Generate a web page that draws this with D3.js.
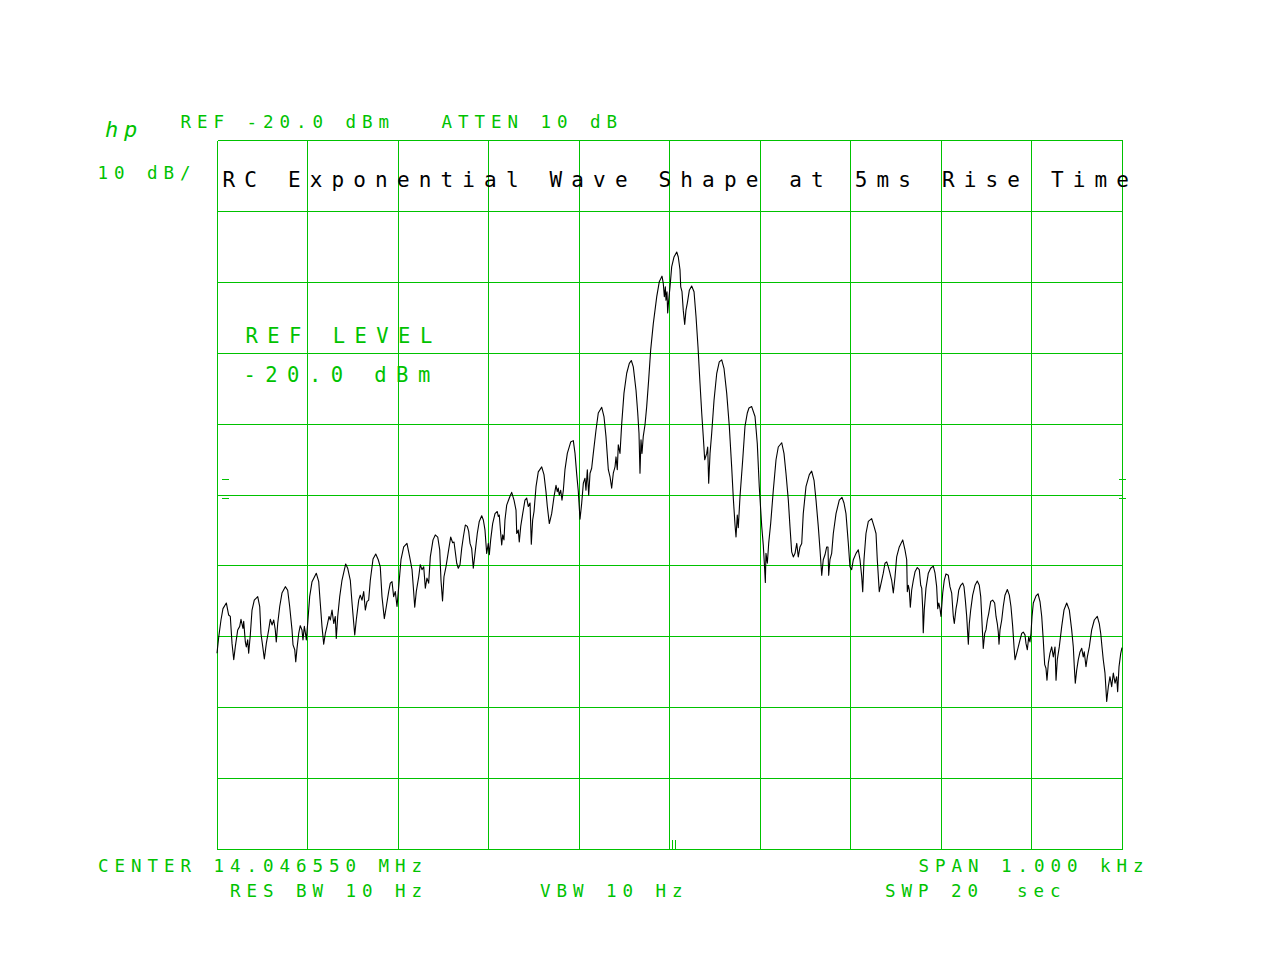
<!DOCTYPE html>
<html>
<head>
<meta charset="utf-8">
<script src="https://cdn.jsdelivr.net/npm/d3@7"></script>
<style>
  html, body { margin: 0; padding: 0; background: #ffffff; }
  svg { display: block; }
  text { white-space: pre; font-family: "DejaVu Sans Mono", "Liberation Mono", monospace; }
</style>
</head>
<body>
<svg id="chart" width="1280" height="960"></svg>
<script>
// ---------------- DATA ----------------
// Frequency offset from centre (Hz) of each trace point
const traceFreqHz = [
-500,-498.1,-495.6,-493.4,-489.7,-487.1,-485.3,-483.4,-481.5,-479.8,
-477.1,-474.9,-473.5,-471.3,-470.5,-468.7,-467.6,-466.1,-465.0,-463.2,
-461.3,-458.8,-455.0,-452.8,-451.4,-449.2,-447.7,-445.5,-442.9,-441.1,
-439.2,-437.3,-435.6,-434.5,-432.9,-430.7,-428.2,-424.5,-421.9,-419.7,
-417.1,-416.0,-414.1,-413.0,-411.6,-409.7,-408.0,-406.1,-405.0,-403.5,
-402.0,-401.3,-399.8,-397.6,-395.0,-390.3,-387.6,-385.9,-384.0,-382.1,
-380.3,-378.5,-376.2,-374.8,-372.9,-371.0,-369.3,-368.2,-366.6,-364.4,
-361.9,-357.8,-355.6,-352.7,-350.8,-348.9,-347.8,-346.1,-343.4,-341.7,
-339.8,-337.9,-336.1,-334.3,-332.4,-330.6,-327.6,-324.6,-321.8,-319.6,
-317.7,-315.1,-312.9,-310.3,-308.5,-306.6,-304.8,-303.0,-301.1,-299.2,
-296.7,-293.7,-290.1,-287.1,-284.5,-283.1,-281.5,-279.8,-277.1,-275.4,
-273.5,-271.6,-269.8,-268.0,-266.1,-264.3,-261.3,-258.8,-256.1,-253.9,
-252.5,-250.8,-249.2,-247.0,-244.4,-241.8,-239.6,-238.1,-236.7,-235.1,
-233.4,-231.5,-229.6,-227.8,-225.6,-223.4,-221.9,-220.4,-218.6,-216.8,
-214.9,-212.4,-210.2,-207.5,-205.7,-203.9,-202.8,-202.0,-200.2,-199.1,
-197.6,-195.4,-192.8,-190.3,-189.2,-188.1,-186.5,-185.4,-184.3,-182.9,
-181.8,-179.9,-177.0,-174.4,-171.8,-169.6,-168.8,-167.1,-166.0,-164.4,
-162.2,-159.7,-157.8,-156.0,-154.1,-152.7,-151.2,-149.7,-147.5,-145.0,
-141.2,-138.7,-136.5,-135.0,-132.8,-130.2,-127.6,-125.4,-124.0,-122.9,
-121.8,-120.2,-118.8,-117.3,-115.5,-112.9,-109.2,-106.3,-104.4,-102.5,
-100.8,-98.9,-97.0,-95.2,-93.4,-92.3,-90.8,-89.3,-87.8,-86.0,
-84.2,-81.2,-78.7,-74.9,-72.4,-70.2,-67.6,-65.7,-63.9,-62.1,
-60.2,-59.1,-57.7,-56.6,-54.7,-52.8,-50.3,-47.3,-44.4,-42.2,
-40.0,-37.0,-35.1,-33.7,-32.6,-31.5,-30.4,-29.0,-27.1,-25.2,
-23.0,-20.8,-17.9,-14.1,-11.3,-8.3,-6.9,-5.7,-4.6,-3.9,
-2.8,-2.0,-0.9,0.6,2.4,5.0,8.0,9.7,11.6,12.4,
13.8,15.2,16.8,18.2,19.7,21.9,24.5,27.1,29.3,31.5,
33.7,35.6,37.3,38.9,41.1,42.2,43.3,44.8,46.6,49.2,
52.2,55.0,57.7,60.2,63.2,66.1,68.7,70.5,72.4,73.5,
74.9,76.0,77.9,80.9,83.4,86.0,87.8,90.8,94.5,97.0,
99.2,100.8,101.9,103.6,104.8,105.9,106.6,108.1,109.6,111.8,
114.7,117.7,120.2,124.0,126.5,128.7,131.3,133.1,135.0,136.8,
138.7,140.6,142.3,144.2,146.1,147.8,150.8,154.5,157.1,159.7,
161.9,164.4,166.3,168.2,169.9,171.8,173.7,175.1,175.9,177.3,
179.2,181.0,184.0,187.6,190.6,192.8,195.0,197.6,199.4,201.3,
203.1,206.1,208.6,210.5,212.4,213.5,214.9,217.1,219.7,223.4,
226.0,228.2,229.6,231.8,234.5,236.2,238.1,240.0,241.8,243.6,
245.5,247.3,249.2,251.0,253.9,257.7,260.2,262.1,262.8,263.9,
265.0,266.1,267.6,269.4,271.3,273.8,276.0,277.6,278.7,279.8,
280.4,281.5,283.4,286.0,288.6,291.5,293.4,295.2,296.4,297.5,
298.9,300.0,301.9,303.6,305.5,308.1,309.9,311.8,313.6,314.7,
316.6,318.0,319.6,321.8,324.0,325.4,326.9,328.4,330.2,331.3,
332.8,335.0,337.6,340.1,342.3,343.9,345.0,346.7,348.3,349.7,
351.2,352.7,354.9,357.1,359.3,360.8,362.2,363.3,364.1,365.2,
367.1,368.8,370.7,373.3,375.5,377.3,379.2,380.7,381.8,383.6,
385.4,387.3,389.2,390.9,392.8,393.9,395.4,396.9,398.3,399.4,
400.6,402.0,405.0,407.2,409.4,411.3,413.0,414.6,416.0,417.1,
418.6,420.4,422.3,424.1,426.0,427.1,428.5,430.7,433.4,435.9,
438.9,441.8,444.4,446.2,447.3,448.4,449.9,451.7,453.6,455.5,
457.2,458.3,460.2,461.7,463.9,466.5,469.4,472.7,474.9,476.5,
477.9,479.3,481.2,483.1,484.9,486.7,488.6,490.4,492.3,494.1,
495.2,496.7,498.6,500
];

// Measured level (dBm) of each trace point
const traceLevelDbm = [
-92.4,-90.1,-87.7,-86.1,-85.3,-87.0,-87.2,-91.0,-93.3,-91.5,
-89.1,-88.6,-87.6,-88.9,-87.9,-90.8,-91.5,-90.5,-92.4,-89.8,
-86.3,-84.9,-84.4,-85.8,-89.6,-91.7,-93.2,-91.0,-89.1,-87.6,
-88.4,-87.7,-89.1,-90.8,-88.2,-85.8,-83.9,-83.0,-83.5,-85.8,
-89.1,-91.2,-91.9,-93.6,-91.7,-89.6,-88.5,-89.1,-90.5,-88.6,
-89.8,-90.5,-88.2,-84.4,-82.3,-81.1,-82.3,-85.3,-88.6,-91.1,
-89.6,-88.6,-87.2,-87.7,-86.3,-88.2,-87.2,-90.3,-87.2,-84.4,
-82.1,-79.8,-80.4,-82.1,-85.3,-88.2,-89.8,-87.7,-84.9,-84.2,
-84.9,-83.7,-86.3,-85.1,-84.9,-82.1,-79.1,-78.4,-79.2,-80.2,
-84.4,-87.5,-85.8,-83.7,-82.5,-82.3,-84.4,-83.7,-85.8,-83.0,
-79.2,-77.4,-76.9,-78.8,-80.6,-83.0,-85.9,-83.7,-81.6,-79.9,
-80.6,-80.2,-83.2,-81.8,-82.5,-78.8,-76.4,-75.7,-76.0,-77.8,
-82.1,-85.0,-81.6,-80.2,-78.1,-76.0,-76.8,-76.7,-78.1,-79.7,
-80.4,-79.9,-77.6,-76.0,-74.3,-74.5,-75.2,-76.9,-77.6,-80.4,
-78.3,-75.5,-73.8,-73.0,-73.6,-75.0,-76.9,-78.3,-76.9,-78.5,
-76.4,-74.1,-72.7,-72.4,-73.1,-72.9,-75.5,-77.1,-75.7,-76.4,
-73.6,-71.5,-70.5,-69.7,-70.8,-72.2,-75.5,-75.0,-76.7,-74.5,
-72.7,-70.8,-70.5,-71.7,-71.2,-77.0,-73.6,-72.4,-68.9,-66.8,
-66.1,-67.2,-69.6,-71.7,-74.1,-72.7,-70.3,-68.7,-69.6,-69.1,
-70.1,-69.4,-70.8,-69.4,-66.5,-64.2,-62.6,-62.4,-64.2,-67.2,
-69.5,-73.5,-71.2,-68.4,-67.7,-69.4,-66.5,-70.1,-67.0,-66.3,
-64.2,-60.9,-58.5,-57.7,-59.0,-61.8,-66.5,-67.5,-69.1,-67.0,
-66.1,-64.7,-66.5,-63.0,-64.2,-60.0,-55.7,-52.9,-51.5,-51.1,
-52.0,-55.3,-58.5,-61.4,-67.0,-62.3,-64.2,-61.8,-60.2,-57.6,
-53.8,-49.6,-45.9,-42.1,-40.0,-39.2,-40.2,-42.1,-40.7,-42.6,
-41.4,-44.4,-42.6,-40.7,-37.9,-36.5,-35.8,-36.5,-38.3,-40.7,
-41.4,-44.0,-46.0,-44.0,-43.0,-41.2,-40.6,-41.4,-44.9,-49.2,
-54.3,-58.5,-61.8,-65.1,-64.2,-63.3,-68.4,-64.2,-61.4,-56.7,
-52.9,-51.3,-51.0,-52.2,-55.7,-60.4,-66.1,-70.5,-74.3,-76.0,
-72.9,-74.7,-70.3,-65.1,-60.4,-58.5,-57.8,-57.6,-59.0,-62.8,
-68.9,-72.2,-74.5,-77.1,-79.7,-82.4,-78.3,-79.7,-76.9,-74.1,
-69.4,-65.1,-63.3,-62.7,-64.2,-67.0,-70.8,-74.5,-78.1,-78.8,
-78.3,-76.9,-78.8,-77.4,-76.9,-72.7,-68.9,-67.2,-66.7,-68.0,
-70.8,-74.5,-77.8,-81.4,-79.2,-78.5,-77.4,-77.4,-81.4,-79.2,
-78.3,-75.5,-72.7,-70.8,-70.4,-71.2,-72.7,-76.9,-80.2,-80.6,
-79.2,-78.3,-77.8,-79.2,-81.6,-83.7,-79.2,-75.5,-73.8,-73.4,
-74.5,-75.5,-79.2,-83.7,-82.1,-81.1,-79.7,-79.5,-80.2,-81.1,
-82.1,-83.9,-81.6,-78.8,-77.4,-76.4,-77.8,-79.2,-83.7,-82.8,
-83.5,-85.9,-83.5,-82.1,-80.9,-80.3,-80.6,-82.8,-83.2,-86.1,
-89.5,-86.3,-83.2,-81.1,-80.4,-80.1,-81.1,-83.0,-86.1,-85.3,
-86.1,-87.2,-83.9,-82.1,-81.2,-81.4,-83.0,-83.9,-87.2,-88.2,
-86.1,-85.1,-83.5,-82.8,-82.5,-83.0,-84.9,-87.2,-91.1,-88.2,
-86.3,-84.2,-82.8,-82.2,-82.8,-84.4,-87.2,-91.7,-89.6,-89.1,
-87.7,-86.8,-85.1,-84.9,-85.3,-87.2,-88.2,-89.4,-91.1,-89.1,
-87.7,-85.8,-84.2,-83.4,-84.2,-85.8,-88.6,-91.5,-93.3,-92.4,
-91.5,-90.5,-89.6,-89.4,-89.8,-91.0,-91.9,-90.1,-90.8,-89.6,
-87.2,-85.3,-84.3,-84.0,-85.1,-87.2,-90.5,-94.0,-94.5,-96.2,
-93.8,-92.4,-91.5,-92.9,-91.5,-96.2,-93.3,-91.5,-88.6,-86.3,
-85.3,-86.3,-89.1,-91.5,-94.3,-96.6,-94.8,-93.3,-92.2,-91.7,
-92.9,-92.2,-94.3,-92.9,-91.5,-89.1,-87.7,-87.2,-88.2,-89.6,
-91.5,-93.3,-95.2,-99.2,-97.1,-95.7,-97.1,-95.2,-96.6,-95.7,
-97.8,-94.3,-92.4,-91.6
];

// Graticule (10 divisions each way)
const freqGridHz = [-500,-400,-300,-200,-100,0,100,200,300,400,500];
const levelGridDbm = [-120,-110,-100,-90,-80,-70,-60,-50,-40,-30,-20];
// Indicator marks on the graticule edges (dBm) and centre marker (Hz)
const edgeMarkDbm = [-67.8, -70.5];
const centreMarkHz = [3, 7];

// Annotation texts
const titleText = "RC Exponential Wave Shape at 5ms Rise Time";
const refText = "REF -20.0 dBm";
const attenText = "ATTEN 10 dB";
const scaleText = "10 dB/";
const refLevelLabel = "REF LEVEL";
const refLevelValue = "-20.0 dBm";
const centerText = "CENTER 14.046550 MHz";
const spanText = "SPAN 1.000 kHz";
const rbwText = "RES BW 10 Hz";
const vbwText = "VBW 10 Hz";
const sweepText = "SWP 20  sec";
const logoText = "hp";

// ---------------- DRAWING ----------------
const GREEN = "#00c200";
const svg = d3.select("#chart");

const x = d3.scaleLinear().domain([-500, 500]).range([217, 1122]);
const y = d3.scaleLinear().domain([-120, -20]).range([849, 140]);

const px = v => Math.floor(x(v)) + 0.5;
const py = v => Math.round(y(v)) + 0.5;

const grid = svg.append("g")
  .attr("stroke", GREEN).attr("stroke-width", 1).attr("shape-rendering", "crispEdges");

grid.selectAll("line.v").data(freqGridHz).join("line").attr("class", "v")
  .attr("x1", d => px(d)).attr("x2", d => px(d))
  .attr("y1", py(-20)).attr("y2", py(-120));

grid.selectAll("line.h").data(levelGridDbm).join("line").attr("class", "h")
  .attr("x1", px(-500)).attr("x2", px(500))
  .attr("y1", d => py(d)).attr("y2", d => py(d));

// small reference-level indicator marks on the left and right edges
grid.selectAll("line.ml").data(edgeMarkDbm).join("line").attr("class", "ml")
  .attr("x1", x(-494.5)).attr("x2", x(-486.5))
  .attr("y1", d => py(d)).attr("y2", d => py(d));
grid.selectAll("line.mr").data(edgeMarkDbm).join("line").attr("class", "mr")
  .attr("x1", x(496.5)).attr("x2", x(504))
  .attr("y1", d => py(d)).attr("y2", d => py(d));
// centre-frequency marker at the bottom edge
grid.selectAll("line.mc").data(centreMarkHz).join("line").attr("class", "mc")
  .attr("x1", d => px(d)).attr("x2", d => px(d))
  .attr("y1", y(-118.7)).attr("y2", py(-120));

// trace
const pts = traceFreqHz.map((f, i) => [f, traceLevelDbm[i]]);
const line = d3.line().x(d => x(d[0])).y(d => y(d[1]));
svg.append("path").datum(pts)
  .attr("d", line)
  .attr("fill", "none").attr("stroke", "#000").attr("stroke-width", 1.1)
  .attr("stroke-linejoin", "round");

// text helper: monospaced characters at fixed pitch
function spaced(str, x0, yb, pitch, size, color, extra) {
  const t = svg.append("text")
    .attr("xml:space", "preserve")
    .attr("x", Array.from(str).map((c, i) => (x0 + i * pitch).toFixed(1)).join(" "))
    .attr("y", yb)
    .attr("font-size", size)
    .attr("fill", color)
    .text(str);
  if (extra) extra(t);
  return t;
}

const P = 16.5;
spaced(refText, 180.5, 128, P, 17.5, GREEN);
spaced(attenText, 441.5, 128, P, 17.5, GREEN);
spaced(scaleText, 97.5, 179, P, 17.5, GREEN);
spaced(titleText, 222.5, 187, 21.8, 21, "#000");
spaced(refLevelLabel, 245.5, 343, 21.8, 20.5, GREEN);
spaced(refLevelValue, 243.5, 382, 21.8, 20.5, GREEN);
spaced(centerText, 98, 872, P, 17.5, GREEN);
spaced(spanText, 918.5, 872, P, 17.5, GREEN);
spaced(rbwText, 230, 897, P, 17.5, GREEN);
spaced(vbwText, 540, 897, P, 17.5, GREEN);
spaced(sweepText, 885, 897, P, 17.5, GREEN);
spaced(logoText, 105, 137, 19, 22, GREEN, t => t.attr("font-style", "italic"));
</script>
</body>
</html>
